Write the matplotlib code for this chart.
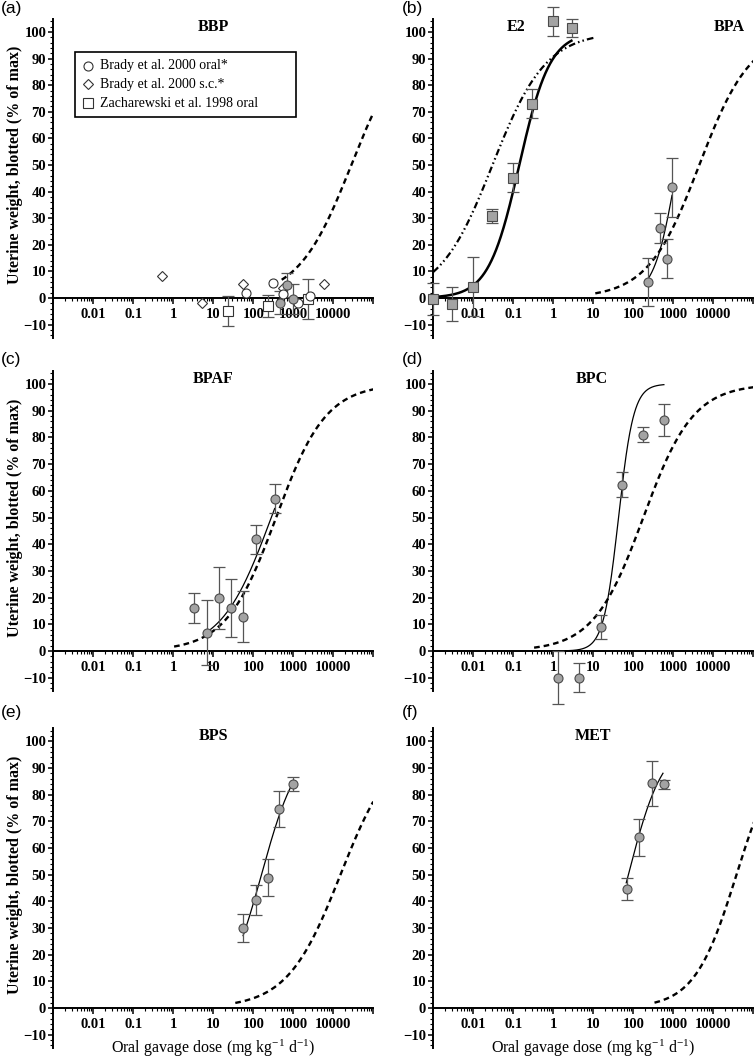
import numpy as np
import matplotlib
matplotlib.use("Agg")
import matplotlib.pyplot as plt
from matplotlib.patches import Rectangle
from matplotlib.ticker import FixedLocator, FixedFormatter

# ---------------- data ----------------
# (a) BBP, this study + literature
bbp_dose = [470, 710, 965]
bbp_resp = [-1.7, 4.8, -0.4]
bbp_err = [4.5, 4.6, 5.5]
brady_oral_dose = [65, 316, 560, 1290, 2630]
brady_oral_resp = [2.0, 5.6, 1.5, -2.0, 0.7]
brady_sc_dose = [0.53, 5.1, 56, 550, 5900]
brady_sc_resp = [8.3, -1.8, 5.1, 3.6, 5.1]
zach_dose = [23, 229, 2290]
zach_resp = [-4.8, -3.0, -0.5]
zach_err = [5.6, 4.1, 7.5]
legend_labels = ["Brady et al. 2000 oral*", "Brady et al. 2000 s.c.*",
                 "Zacharewski et al. 1998 oral"]
# (b) E2 and BPA
e2_dose = [0.001, 0.003, 0.01, 0.03, 0.1, 0.3, 1, 3]
e2_resp = [-0.3, -2.3, 4.3, 30.8, 45.3, 73.0, 104.0, 101.5]
e2_err = [6.0, 6.3, 11.0, 2.6, 5.6, 5.4, 5.5, 3.3]
bpa_dose = [234, 467, 692, 933]
bpa_resp = [6.0, 26.3, 14.7, 41.6]
bpa_err = [9.0, 5.5, 7.3, 11.0]
# (c) BPAF
bpaf_dose = [3.35, 6.85, 13.8, 27.5, 56, 117, 347]
bpaf_resp = [16.2, 6.9, 19.7, 16.0, 12.8, 41.8, 57.1]
bpaf_err = [5.7, 12.2, 11.6, 10.9, 9.5, 5.4, 5.4]
# (d) BPC
bpc_dose = [1.32, 4.4, 15.5, 52, 175, 590]
bpc_resp = [-10.0, -10.0, 8.9, 62.3, 81.0, 86.6]
bpc_err = [10.0, 5.4, 4.5, 4.6, 2.8, 6.0]
# (e) BPS
bps_dose = [55, 115, 229, 447, 966]
bps_resp = [30.0, 40.5, 48.8, 74.6, 83.9]
bps_err = [5.3, 5.6, 6.9, 6.9, 2.7]
# (f) MET
met_dose = [71, 141, 288, 596]
met_resp = [44.6, 64.0, 84.3, 83.9]
met_err = [4.1, 7.0, 8.4, 1.6]

# Hill curves: (log10 ED50, logistic slope per decade, log10 dose start,
#               log10 dose end, top %)
fit_e2 = (-0.85, 2.6, -3.0, 0.48, 100)
fit_bpa = (3.10, 3.5, 2.37, 2.97, 100)
fit_bpaf = (2.45, 1.6, 0.79, 2.54, 100)
fit_bpc = (1.63, 5.3, 0.10, 2.78, 100)
fit_bps = (2.204, 2.154, 1.74, 2.95, 100)
fit_met = (1.877, 2.306, 1.82, 2.75, 100)
pred_bbp = (4.45, 1.5, 2.71, 5.0, 100)
pred_e2 = (-1.52, 1.5, -3.0, 1.05, 100)
pred_bpa = (3.65, 1.55, 1.05, 5.05, 100)
pred_bpaf = (2.57, 1.6, 0.02, 5.0, 100)
pred_bpc = (2.25, 1.6, -0.48, 5.05, 100)
pred_bps = (4.18, 1.5, 1.55, 5.0, 100)
pred_met = (4.58, 1.9, 2.53, 5.05, 100)

panel_titles = ["BBP", "E2", "BPA", "BPAF", "BPC", "BPS", "MET"]
xtick_labels = ["", "0.01", "0.1", "1", "10", "100", "1000", "10000", ""]
ylabel = "Uterine weight, blotted (% of max)"
xlabel = "Oral gavage dose (mg kg$^{-1}$ d$^{-1}$)"

# ---------------- style ----------------
plt.rcParams["font.family"] = ["Liberation Serif", "DejaVu Serif"]
plt.rcParams["font.weight"] = "bold"
plt.rcParams["mathtext.fontset"] = "custom"
plt.rcParams["mathtext.rm"] = "Liberation Serif"
plt.rcParams["mathtext.default"] = "regular"

W, H = 754, 1062
fig = plt.figure(figsize=(W / 100, H / 100), dpi=100)

GRAY = "#a3a3a3"
EDGE = "#4a4a4a"
ECOL = "#555555"


def make_ax(left_px, y0_px, scale):
    top = y0_px - 105 * scale
    bottom = y0_px + 15 * scale
    ax = fig.add_axes([left_px / W, 1 - bottom / H, 320 / W, (bottom - top) / H])
    ax.set_xscale("log")
    ax.set_xlim(1e-3, 1e5)
    ax.set_ylim(-15, 105)
    ax.patch.set_alpha(0)
    for s in ("top", "right"):
        ax.spines[s].set_visible(False)
    ax.spines["bottom"].set_position(("data", 0))
    ax.spines["bottom"].set_linewidth(1.4)
    ax.spines["left"].set_linewidth(1.4)
    ax.xaxis.set_major_locator(FixedLocator(10.0 ** np.arange(-3, 6)))
    ax.xaxis.set_major_formatter(FixedFormatter(xtick_labels))
    ax.xaxis.set_minor_locator(FixedLocator(
        [m * 10.0 ** k for k in range(-3, 5) for m in range(2, 10)]))
    ax.yaxis.set_major_locator(FixedLocator(np.arange(-10, 101, 10)))
    ax.yaxis.set_minor_locator(FixedLocator(np.arange(-14, 105, 2)))
    ax.tick_params(axis="x", which="major", direction="out", length=4.5, width=1.1,
                   pad=3.0, labelsize=10.5)
    ax.tick_params(axis="x", which="minor", direction="out", length=2.5, width=0.8)
    ax.tick_params(axis="y", which="major", direction="out", length=3.6, width=1.1,
                   pad=1.5, labelsize=10.5)
    ax.tick_params(axis="y", which="minor", direction="out", length=2.2, width=0.8)
    return ax


def draw_curve(ax, params, lw, dashes=None):
    logec, slope, lo, hi, top = params
    d = np.logspace(lo, hi, 300)
    r = top / (1.0 + np.exp(-slope * (np.log10(d) - logec)))
    line, = ax.plot(d, r, color="black", lw=lw, solid_capstyle="butt", zorder=2)
    if dashes is not None:
        line.set_dashes(dashes)
    return line


def draw_points(ax, dose, resp, err, marker="o"):
    ax.errorbar(dose, resp, yerr=err, fmt="none", ecolor=ECOL, elinewidth=0.9,
                capsize=4, capthick=0.9, zorder=3, clip_on=False)
    ax.plot(dose, resp, linestyle="none", marker=marker, ms=6.5, mfc=GRAY, mec=EDGE,
            mew=0.8, zorder=4, clip_on=False)


def title(ax, x, text):
    ax.text(x, 0.974, text, transform=ax.transAxes, ha="center", va="center",
            fontsize=11.5, fontweight="bold")


DASH = (2.4, 1.7)
DASHDOT = (3.0, 1.4, 0.7, 1.4, 0.7, 1.4)

ax_a = make_ax(53.3, 298, 2.66)
ax_b = make_ax(433.3, 298, 2.66)
ax_c = make_ax(53.3, 651, 2.67)
ax_d = make_ax(433.3, 651, 2.67)
ax_e = make_ax(53.3, 1008, 2.667)
ax_f = make_ax(433.3, 1008, 2.667)

# (a) BBP
draw_curve(ax_a, pred_bbp, 1.7, DASH)
ax_a.errorbar(zach_dose, zach_resp, yerr=zach_err, fmt="none", ecolor=ECOL,
              elinewidth=0.9, capsize=4, capthick=0.9, zorder=3)
ax_a.plot(zach_dose, zach_resp, ls="none", marker="s", ms=6.5, mfc="white",
          mec="#333333", mew=0.8, zorder=4)
ax_a.plot(brady_sc_dose, brady_sc_resp, ls="none", marker="D", ms=4.8, mfc="white",
          mec="#333333", mew=0.8, zorder=4)
ax_a.plot(brady_oral_dose, brady_oral_resp, ls="none", marker="o", ms=6.5, mfc="white",
          mec="#333333", mew=0.8, zorder=4)
draw_points(ax_a, bbp_dose, bbp_resp, bbp_err)
title(ax_a, 0.5, panel_titles[0])
# legend box drawn in axes fraction
ax_a.add_patch(Rectangle((0.0678, 0.691), 0.6897, 0.2056, transform=ax_a.transAxes,
                         fill=False, edgecolor="black", lw=1.2, zorder=5))
leg_y = [0.8528, 0.7945, 0.735]
leg_m = [("o", 6.5), ("D", 4.8), ("s", 6.5)]
for yy, (mk, ms), lab in zip(leg_y, leg_m, legend_labels):
    ax_a.plot([0.1075], [yy], transform=ax_a.transAxes, marker=mk, ms=ms, mfc="white",
              mec="#333333", mew=0.8, ls="none", zorder=6)
    ax_a.text(0.146, yy, lab, transform=ax_a.transAxes, ha="left", va="center",
              fontsize=10, fontweight="normal", zorder=6)

# (b) E2 and BPA
draw_curve(ax_b, pred_e2, 1.6, DASHDOT)
draw_curve(ax_b, fit_e2, 1.8)
draw_curve(ax_b, pred_bpa, 1.7, DASH)
draw_curve(ax_b, fit_bpa, 0.9)
draw_points(ax_b, e2_dose, e2_resp, e2_err, marker="s")
draw_points(ax_b, bpa_dose, bpa_resp, bpa_err)
title(ax_b, 0.258, panel_titles[1])
title(ax_b, 0.924, panel_titles[2])

# (c) BPAF
draw_curve(ax_c, pred_bpaf, 1.7, DASH)
draw_curve(ax_c, fit_bpaf, 0.9)
draw_points(ax_c, bpaf_dose, bpaf_resp, bpaf_err)
title(ax_c, 0.5, panel_titles[3])

# (d) BPC
draw_curve(ax_d, pred_bpc, 1.7, DASH)
draw_curve(ax_d, fit_bpc, 0.9)
draw_points(ax_d, bpc_dose, bpc_resp, bpc_err)
title(ax_d, 0.496, panel_titles[4])

# (e) BPS
draw_curve(ax_e, pred_bps, 1.7, DASH)
draw_curve(ax_e, fit_bps, 0.9)
draw_points(ax_e, bps_dose, bps_resp, bps_err)
title(ax_e, 0.5, panel_titles[5])

# (f) MET
draw_curve(ax_f, pred_met, 1.7, DASH)
draw_curve(ax_f, fit_met, 0.9)
draw_points(ax_f, met_dose, met_resp, met_err)
title(ax_f, 0.5, panel_titles[6])

# y labels
for yc in (165, 517.5, 874.5):
    fig.text(15 / W, 1 - yc / H, ylabel, rotation=90, ha="center", va="center",
             fontsize=11.5, fontweight="bold")
# x labels
for xc in (213.3, 593.3):
    fig.text(xc / W, 1 - 1048 / H, xlabel, ha="center", va="center",
             fontsize=11.5, fontweight="normal")
# panel letters
for lab, xp, yp in [("(a)", 1, 1), ("(b)", 402, 1), ("(c)", 1, 352),
                    ("(d)", 402, 352), ("(e)", 1, 705), ("(f)", 402, 705)]:
    fig.text(xp / W, 1 - yp / H, lab, ha="left", va="top", fontsize=12.5,
             fontweight="normal", family=["Liberation Sans", "DejaVu Sans"])

fig.savefig("out.png", dpi=100)
